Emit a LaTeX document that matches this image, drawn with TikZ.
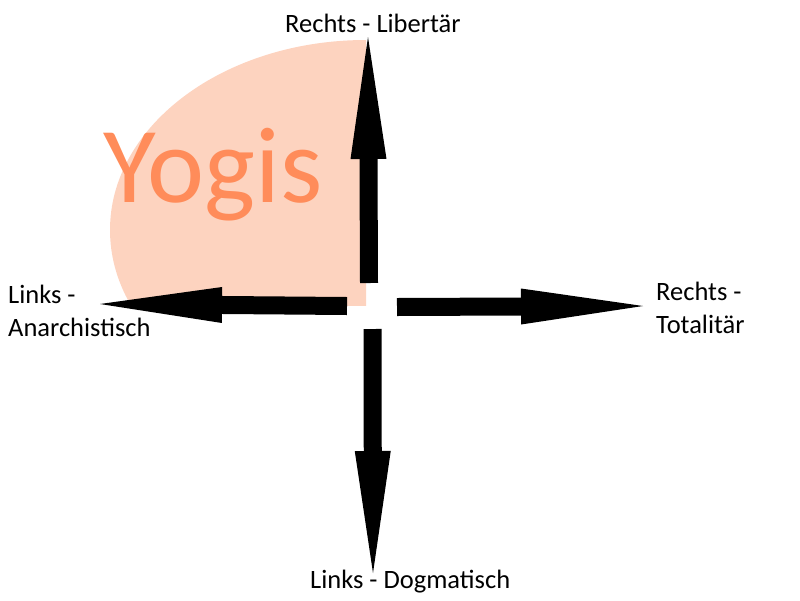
\documentclass[tikz,border=0pt]{standalone}
\usepackage{fontspec}
\setmainfont{Carlito}
\usetikzlibrary{arrows.meta}
\definecolor{yogipink}{RGB}{253,211,191}
\definecolor{yogiorange}{RGB}{255,140,90}
\tikzset{
  label/.style={inner sep=0pt, anchor=base west, align=left,
    font=\fontsize{26.5}{33}\selectfont},
  axis/.style={line width=18pt, black,
    -{Triangle[length=122pt,width=36pt,line width=0pt]}}
}
\begin{document}
\begin{tikzpicture}[x=1pt,y=-1pt]
      \useasboundingbox (0,0) rectangle (800,600);
      \begin{scope}
        \clip (110,30) rectangle (366,305);
        \fill[yogipink] (366,230) ellipse [x radius=256, y radius=190];
      \end{scope}
      \node[inner sep=0pt, anchor=base west, text=yogiorange,
        font=\fontsize{108}{108}\selectfont] (yogis) at (103,202) {Yogis};
      \draw
        (285,32) node[label] (lib){Rechts - Libertär}
        (8,336) node[label] (anar){Links -\\Anarchistisch}
        (656,333) node[label] (total){Rechts -\\Totalitär}
        (310,588) node[label] (dogma){Links - Dogmatisch};
      \coordinate (c) at (372,306);
      \coordinate (upS) at (369,283);
      \coordinate (upT) at (368,37);
      \coordinate (leftS) at (347,306);
      \coordinate (leftT) at (100,304);
      \coordinate (rightS) at (397,307);
      \coordinate (rightT) at (643,306);
      \coordinate (downS) at (372.5,329);
      \coordinate (downT) at (373,573);
      \begin{scope}[axis]
        \draw (upS) to (upT);
        \draw (leftS) to (leftT);
        \draw (rightS) to (rightT);
        \draw (downS) to (downT);
      \end{scope}
    \end{tikzpicture}
\end{document}
